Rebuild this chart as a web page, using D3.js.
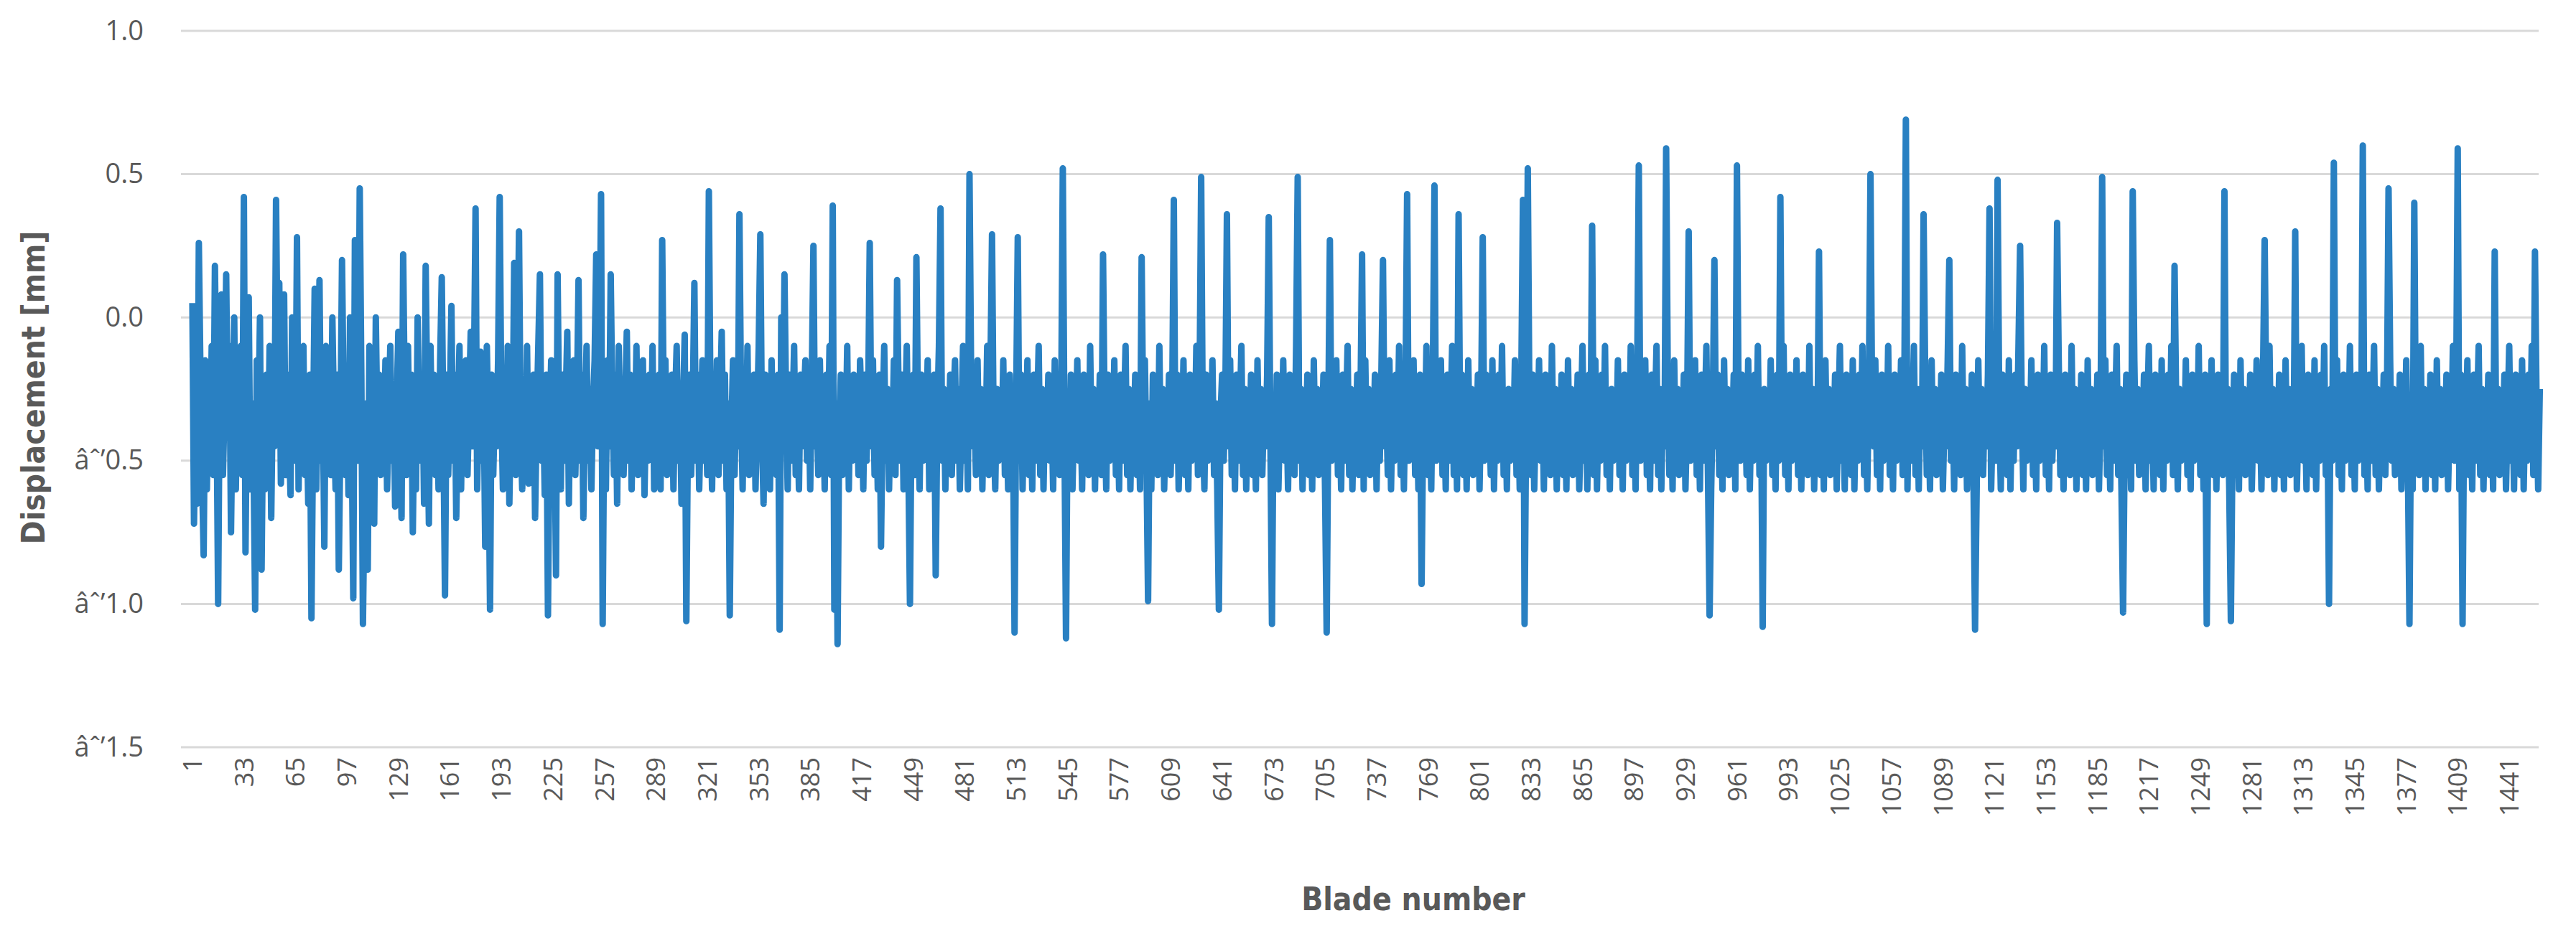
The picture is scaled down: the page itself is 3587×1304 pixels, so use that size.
<html>
<head>
<script src="https://d3js.org/d3.v7.min.js"></script>
<style>
body { margin:0; background:#fff; }
</style>
</head>
<body>
<div id="chart"></div>
<script>
// displacement per blade, one row per 32 blades
var displacement = [
0.05,-0.72,-0.3,-0.65,0.26,-0.2,-0.55,-0.83,-0.15,-0.6,-0.2,-0.5,-0.1,-0.55,0.18,-0.3,-1.0,-0.2,0.08,-0.55,-0.3,0.15,-0.4,-0.1,-0.75,-0.3,0.0,-0.6,-0.2,-0.45,-0.1,-0.55,
0.42,-0.82,-0.2,0.07,-0.6,-0.3,-0.5,-1.02,-0.15,-0.4,0.0,-0.88,-0.3,-0.6,-0.2,-0.5,-0.1,-0.7,-0.25,-0.45,0.41,-0.2,0.12,-0.58,-0.3,0.08,-0.55,-0.2,-0.4,-0.62,0.0,-0.35,
-0.5,0.28,-0.6,-0.2,-0.45,-0.1,-0.55,-0.3,-0.65,-0.2,-1.05,-0.4,0.1,-0.6,-0.3,0.13,-0.5,-0.25,-0.8,-0.1,-0.45,-0.3,-0.55,0.0,-0.35,-0.6,-0.2,-0.88,-0.4,0.2,-0.3,-0.55,
-0.2,-0.62,0.0,-0.4,-0.98,0.27,-0.3,-0.5,0.45,-0.2,-1.07,-0.6,-0.3,-0.88,-0.1,-0.5,-0.25,-0.72,0.0,-0.4,-0.2,-0.55,-0.3,-0.45,-0.15,-0.6,-0.35,-0.1,-0.5,-0.25,-0.66,-0.3,
-0.05,-0.4,-0.7,0.22,-0.3,-0.55,-0.1,-0.48,-0.2,-0.75,-0.3,-0.6,0.0,-0.35,-0.5,-0.2,-0.65,0.18,-0.3,-0.72,-0.1,-0.45,-0.2,-0.55,-0.3,-0.6,-0.15,0.14,-0.4,-0.97,-0.2,-0.55,
-0.3,0.04,-0.5,-0.2,-0.7,-0.35,-0.1,-0.6,-0.25,-0.45,-0.15,-0.55,-0.3,-0.05,-0.45,-0.2,0.38,-0.6,-0.3,-0.12,-0.5,-0.25,-0.8,-0.1,-0.4,-1.02,-0.2,-0.55,-0.3,-0.45,-0.15,0.42,
-0.3,-0.6,-0.2,-0.5,-0.1,-0.65,-0.3,-0.45,0.19,-0.55,-0.2,0.3,-0.4,-0.6,-0.25,-0.5,-0.1,-0.58,-0.3,-0.45,-0.2,-0.7,-0.35,-0.1,0.15,-0.5,-0.3,-0.62,-0.2,-1.04,-0.4,-0.15,
-0.55,-0.3,-0.9,0.15,-0.4,-0.6,-0.2,-0.5,-0.3,-0.05,-0.65,-0.2,-0.45,-0.15,-0.55,-0.3,0.13,-0.5,-0.2,-0.7,-0.35,-0.1,-0.5,-0.25,-0.6,-0.3,-0.15,0.22,-0.45,-0.2,0.43,-1.07,
-0.3,-0.6,-0.15,-0.45,0.15,-0.3,-0.55,-0.2,-0.65,-0.1,-0.4,-0.25,-0.55,-0.3,-0.05,-0.5,-0.2,-0.6,-0.3,-0.45,-0.1,-0.55,-0.25,-0.4,-0.15,-0.62,-0.3,-0.5,-0.2,-0.45,-0.1,-0.6,
-0.3,-0.5,-0.2,-0.6,0.27,-0.35,-0.15,-0.55,-0.3,-0.45,-0.2,-0.6,-0.3,-0.1,-0.5,-0.25,-0.65,-0.3,-0.06,-1.06,-0.4,-0.2,-0.55,-0.3,0.12,-0.5,-0.2,-0.6,-0.35,-0.15,-0.5,-0.3,
-0.55,0.44,-0.3,-0.6,-0.2,-0.45,-0.15,-0.55,-0.3,-0.05,-0.5,-0.2,-0.6,-0.3,-1.04,-0.4,-0.15,-0.55,-0.25,-0.45,0.36,-0.3,-0.6,-0.2,-0.5,-0.1,-0.55,-0.3,-0.45,-0.2,-0.6,-0.35,
-0.1,0.29,-0.4,-0.65,-0.2,-0.5,-0.3,-0.6,-0.15,-0.45,-0.3,-0.55,-0.2,-1.09,0.0,-0.45,0.15,-0.3,-0.6,-0.2,-0.5,-0.35,-0.1,-0.55,-0.3,-0.6,-0.2,-0.45,-0.3,-0.15,-0.5,-0.25,
-0.6,-0.2,0.25,-0.45,-0.3,-0.55,-0.15,-0.5,-0.3,-0.6,-0.2,-0.45,-0.1,-0.55,0.39,-1.02,-0.3,-1.14,-0.4,-0.2,-0.55,-0.3,-0.45,-0.1,-0.6,-0.25,-0.5,-0.2,-0.4,-0.3,-0.55,-0.15,
-0.35,-0.6,-0.2,-0.5,-0.3,0.26,-0.45,-0.15,-0.55,-0.3,-0.6,-0.2,-0.8,-0.35,-0.1,-0.5,-0.25,-0.6,-0.3,-0.45,-0.15,-0.55,0.13,-0.3,-0.5,-0.2,-0.6,-0.35,-0.1,-0.5,-1.0,-0.3,
-0.2,-0.55,0.21,-0.35,-0.6,-0.2,-0.5,-0.3,-0.45,-0.15,-0.6,-0.3,-0.5,-0.2,-0.9,-0.35,-0.1,0.38,-0.5,-0.25,-0.6,-0.3,-0.45,-0.2,-0.55,-0.3,-0.15,-0.5,-0.25,-0.6,-0.35,-0.1,
-0.5,-0.3,-0.6,0.5,-0.2,-0.45,-0.3,-0.55,-0.15,-0.5,-0.25,-0.6,-0.3,-0.45,-0.1,-0.55,-0.2,0.29,-0.4,-0.6,-0.25,-0.5,-0.3,-0.45,-0.15,-0.55,-0.3,-0.6,-0.2,-0.5,-0.35,-1.1,
-0.3,0.28,-0.5,-0.2,-0.6,-0.3,-0.45,-0.15,-0.55,-0.3,-0.6,-0.2,-0.5,-0.35,-0.1,-0.55,-0.25,-0.6,-0.3,-0.45,-0.2,-0.5,-0.3,-0.6,-0.15,-0.5,-0.25,-0.55,-0.3,0.52,-0.4,-1.12,
-0.3,-0.55,-0.2,-0.6,-0.35,-0.45,-0.15,-0.5,-0.3,-0.6,-0.2,-0.45,-0.3,-0.55,-0.1,-0.5,-0.25,-0.6,-0.3,-0.45,-0.2,-0.55,0.22,-0.35,-0.6,-0.2,-0.5,-0.3,-0.45,-0.15,-0.55,-0.3,
-0.6,-0.2,-0.5,-0.35,-0.1,-0.55,-0.25,-0.6,-0.3,-0.45,-0.2,-0.55,-0.3,-0.6,0.21,-0.4,-0.15,-0.5,-0.99,-0.3,-0.6,-0.2,-0.45,-0.3,-0.55,-0.1,-0.5,-0.25,-0.6,-0.35,-0.45,-0.2,
-0.55,-0.3,0.41,-0.5,-0.2,-0.6,-0.35,-0.45,-0.15,-0.55,-0.3,-0.6,-0.2,-0.5,-0.3,-0.45,-0.1,-0.55,-0.25,0.49,-0.4,-0.6,-0.2,-0.5,-0.3,-0.45,-0.15,-0.55,-0.3,-0.6,-1.02,-0.35,
-0.2,-0.5,-0.3,0.36,-0.45,-0.15,-0.55,-0.3,-0.6,-0.2,-0.5,-0.35,-0.1,-0.55,-0.25,-0.6,-0.3,-0.45,-0.2,-0.55,-0.3,-0.6,-0.15,-0.5,-0.25,-0.55,-0.3,-0.45,-0.2,0.35,-0.4,-1.07,
-0.3,-0.55,-0.2,-0.6,-0.35,-0.45,-0.15,-0.5,-0.3,-0.6,-0.2,-0.45,-0.3,-0.55,-0.1,0.49,-0.5,-0.25,-0.6,-0.3,-0.45,-0.2,-0.55,-0.3,-0.6,-0.15,-0.5,-0.25,-0.55,-0.3,-0.45,-0.2,
-0.6,-1.1,-0.35,0.27,-0.5,-0.3,-0.45,-0.15,-0.55,-0.3,-0.6,-0.2,-0.5,-0.35,-0.1,-0.55,-0.25,-0.6,-0.3,-0.45,-0.2,-0.55,-0.3,0.22,-0.6,-0.15,-0.5,-0.25,-0.55,-0.3,-0.45,-0.2,
-0.6,-0.3,-0.5,-0.2,0.2,-0.45,-0.3,-0.55,-0.15,-0.6,-0.3,-0.5,-0.2,-0.45,-0.1,-0.55,-0.3,-0.6,-0.25,0.43,-0.5,-0.3,-0.45,-0.15,-0.55,-0.3,-0.6,-0.2,-0.93,-0.35,-0.45,-0.1,
-0.55,-0.3,-0.6,-0.2,0.46,-0.5,-0.3,-0.45,-0.15,-0.55,-0.3,-0.6,-0.2,-0.5,-0.35,-0.1,-0.55,-0.25,-0.6,0.36,-0.45,-0.2,-0.55,-0.3,-0.6,-0.15,-0.5,-0.25,-0.55,-0.3,-0.45,-0.2,
-0.6,-0.3,0.28,-0.5,-0.2,-0.45,-0.3,-0.55,-0.15,-0.6,-0.3,-0.5,-0.2,-0.45,-0.1,-0.55,-0.3,-0.6,-0.25,-0.5,-0.3,-0.45,-0.15,-0.55,-0.3,-0.6,-0.2,0.41,-1.07,-0.35,0.52,-0.3,
-0.55,-0.2,-0.6,-0.35,-0.45,-0.15,-0.5,-0.3,-0.6,-0.2,-0.45,-0.3,-0.55,-0.1,-0.5,-0.25,-0.6,-0.3,-0.45,-0.2,-0.55,-0.3,-0.6,-0.15,-0.5,-0.25,-0.55,-0.3,-0.45,-0.2,-0.6,-0.35,
-0.1,-0.5,-0.3,-0.6,-0.2,-0.45,0.32,-0.55,-0.15,-0.6,-0.3,-0.5,-0.2,-0.45,-0.1,-0.55,-0.3,-0.6,-0.25,-0.5,-0.3,-0.45,-0.15,-0.55,-0.3,-0.6,-0.2,-0.5,-0.35,-0.45,-0.1,-0.55,
-0.3,-0.6,-0.2,0.53,-0.5,-0.3,-0.45,-0.15,-0.55,-0.3,-0.6,-0.2,-0.5,-0.35,-0.1,-0.55,-0.25,-0.6,-0.3,-0.45,0.59,-0.2,-0.55,-0.3,-0.6,-0.15,-0.5,-0.25,-0.55,-0.3,-0.45,-0.2,
-0.6,-0.35,0.3,-0.5,-0.3,-0.45,-0.15,-0.55,-0.3,-0.6,-0.2,-0.5,-0.35,-0.1,-0.55,-1.04,-0.6,-0.3,0.2,-0.45,-0.2,-0.55,-0.3,-0.6,-0.15,-0.5,-0.25,-0.55,-0.3,-0.45,-0.2,-0.6,
0.53,-0.3,-0.5,-0.2,-0.45,-0.3,-0.55,-0.15,-0.6,-0.3,-0.5,-0.2,-0.45,-0.1,-0.55,-0.3,-1.08,-0.25,-0.5,-0.3,-0.45,-0.15,-0.55,-0.3,-0.6,-0.2,-0.5,0.42,-0.45,-0.1,-0.55,-0.3,
-0.6,-0.2,-0.5,-0.35,-0.45,-0.15,-0.55,-0.3,-0.6,-0.2,-0.45,-0.3,-0.55,-0.1,-0.5,-0.25,-0.6,-0.3,-0.45,0.23,-0.55,-0.3,-0.6,-0.15,-0.5,-0.25,-0.55,-0.3,-0.45,-0.2,-0.6,-0.35,
-0.1,-0.5,-0.3,-0.6,-0.2,-0.45,-0.3,-0.55,-0.15,-0.6,-0.3,-0.5,-0.2,-0.45,-0.1,-0.55,-0.3,-0.6,-0.25,0.5,-0.3,-0.45,-0.15,-0.55,-0.3,-0.6,-0.2,-0.5,-0.35,-0.45,-0.1,-0.55,
-0.3,-0.6,-0.2,-0.5,-0.3,-0.45,-0.15,-0.55,-0.3,0.69,-0.6,-0.2,-0.5,-0.35,-0.1,-0.55,-0.25,-0.6,-0.3,-0.45,0.36,-0.2,-0.55,-0.3,-0.6,-0.15,-0.5,-0.25,-0.55,-0.3,-0.45,-0.2,
-0.6,-0.35,-0.45,-0.15,0.2,-0.5,-0.3,-0.6,-0.2,-0.45,-0.3,-0.55,-0.1,-0.5,-0.25,-0.6,-0.3,-0.45,-0.2,-0.55,-1.09,-0.6,-0.15,-0.5,-0.25,-0.55,-0.3,-0.45,-0.2,0.38,-0.6,-0.35,
-0.1,-0.5,0.48,-0.3,-0.6,-0.2,-0.45,-0.3,-0.55,-0.15,-0.6,-0.3,-0.5,-0.2,-0.45,-0.1,0.25,-0.3,-0.6,-0.25,-0.5,-0.3,-0.45,-0.15,-0.55,-0.3,-0.6,-0.2,-0.5,-0.35,-0.45,-0.1,
-0.55,-0.3,-0.6,-0.2,-0.5,-0.3,-0.45,0.33,-0.15,-0.55,-0.3,-0.6,-0.2,-0.45,-0.3,-0.55,-0.1,-0.5,-0.25,-0.6,-0.3,-0.45,-0.2,-0.55,-0.3,-0.6,-0.15,-0.5,-0.25,-0.55,-0.3,-0.45,
-0.2,-0.6,-0.35,0.49,-0.45,-0.15,-0.55,-0.3,-0.6,-0.2,-0.5,-0.35,-0.1,-0.55,-0.25,-0.6,-1.03,-0.45,-0.2,-0.55,-0.3,-0.6,0.44,-0.15,-0.5,-0.25,-0.55,-0.3,-0.45,-0.2,-0.6,-0.35,
-0.1,-0.5,-0.3,-0.6,-0.2,-0.45,-0.3,-0.55,-0.15,-0.6,-0.3,-0.5,-0.2,-0.45,-0.1,-0.55,0.18,-0.3,-0.6,-0.25,-0.5,-0.3,-0.45,-0.15,-0.55,-0.3,-0.6,-0.2,-0.5,-0.35,-0.45,-0.1,
-0.55,-0.3,-0.6,-0.2,-1.07,-0.3,-0.45,-0.15,-0.55,-0.3,-0.6,-0.2,-0.45,-0.3,-0.55,0.44,-0.5,-0.25,-0.6,-1.06,-0.45,-0.2,-0.55,-0.3,-0.6,-0.15,-0.5,-0.25,-0.55,-0.3,-0.45,-0.2,
-0.6,-0.35,-0.45,-0.15,-0.5,-0.3,-0.6,-0.2,0.27,-0.3,-0.55,-0.1,-0.5,-0.25,-0.6,-0.3,-0.45,-0.2,-0.55,-0.3,-0.6,-0.15,-0.5,-0.25,-0.55,-0.3,-0.45,0.3,-0.6,-0.35,-0.45,-0.1,
-0.5,-0.3,-0.6,-0.2,-0.45,-0.3,-0.55,-0.15,-0.6,-0.3,-0.5,-0.2,-0.45,-0.1,-0.55,-0.3,-1.0,-0.25,-0.5,0.54,-0.45,-0.15,-0.55,-0.3,-0.6,-0.2,-0.5,-0.35,-0.45,-0.1,-0.55,-0.3,
-0.6,-0.2,-0.5,-0.3,-0.45,0.6,-0.55,-0.3,-0.6,-0.2,-0.5,-0.35,-0.1,-0.55,-0.25,-0.6,-0.3,-0.45,-0.2,-0.55,-0.3,0.45,-0.15,-0.5,-0.25,-0.55,-0.3,-0.45,-0.2,-0.6,-0.35,-0.45,
-0.15,-0.5,-1.07,-0.3,-0.6,0.4,-0.45,-0.3,-0.55,-0.1,-0.5,-0.25,-0.6,-0.3,-0.45,-0.2,-0.55,-0.3,-0.6,-0.15,-0.5,-0.25,-0.55,-0.3,-0.45,-0.2,-0.6,-0.35,-0.45,-0.1,-0.5,-0.3,
0.59,-0.6,-0.2,-1.07,-0.3,-0.45,-0.15,-0.55,-0.3,-0.6,-0.2,-0.5,-0.35,-0.1,-0.55,-0.25,-0.6,-0.3,-0.45,-0.2,-0.55,-0.3,-0.6,0.23,-0.5,-0.25,-0.55,-0.3,-0.45,-0.2,-0.6,-0.35,
-0.1,-0.5,-0.3,-0.6,-0.2,-0.45,-0.3,-0.55,-0.15,-0.6,-0.3,-0.5,-0.2,-0.45,-0.1,-0.55,0.23,-0.3,-0.6,-0.25
];
var yTicks = [-1.5, -1.0, -0.5, 0.0, 0.5, 1.0];
var xTickLabels = d3.range(1, 1442, 32); // 1, 33, 65 ... 1441

var width = 3587, height = 1304;
var plotLeft = 252, plotRight = 3535, plotTop = 43, plotBottom = 1041;

var svg = d3.select("#chart").append("svg")
    .attr("width", width)
    .attr("height", height)
    .style("font-family", "'Open Sans', 'DejaVu Sans', sans-serif");

var x = d3.scaleLinear().domain([-6.1, 1459.3]).range([plotLeft, plotRight]);
var y = d3.scaleLinear().domain([-1.5, 1.0]).range([plotBottom, plotTop]);

// gridlines
svg.selectAll(".grid")
    .data(yTicks)
    .enter().append("line")
    .attr("x1", plotLeft).attr("x2", plotRight)
    .attr("y1", function(d) { return y(d); })
    .attr("y2", function(d) { return y(d); })
    .attr("stroke", "#d9d9d9")
    .attr("stroke-width", 3);

// y axis labels
var yAxis = svg.append("g")
    .attr("transform", "translate(" + (plotLeft - 52) + ",0)")
    .call(d3.axisLeft(y).tickValues(yTicks).tickFormat(d3.format(".1f")).tickSize(0).tickPadding(0));
yAxis.select(".domain").remove();
yAxis.selectAll("text")
    .attr("fill", "#595959")
    .style("font-size", "38px")
    .style("font-family", "'Open Sans', sans-serif");

// x axis labels, rotated
var xAxis = svg.append("g")
    .attr("transform", "translate(0," + (plotBottom + 14) + ")")
    .call(d3.axisBottom(x).tickValues(xTickLabels).tickFormat(d3.format("d")).tickSize(0));
xAxis.select(".domain").remove();
xAxis.selectAll("text")
    .attr("fill", "#595959")
    .style("font-size", "36px")
    .style("font-family", "'Open Sans', sans-serif")
    .attr("text-anchor", "end")
    .attr("transform", "rotate(-90)")
    .attr("x", 0)
    .attr("y", 0)
    .attr("dy", "0.35em");

// series line
var line = d3.line()
    .x(function(d, i) { return x(i + 1); })
    .y(function(d) { return y(d); });

svg.append("path")
    .datum(displacement)
    .attr("d", line)
    .attr("fill", "none")
    .attr("stroke", "#2980c2")
    .attr("stroke-width", 9)
    .attr("stroke-linejoin", "round");

// axis titles
svg.append("text")
    .attr("transform", "translate(62,540) rotate(-90)")
    .attr("text-anchor", "middle")
    .attr("fill", "#595959")
    .style("font-size", "44px")
    .style("font-weight", "bold")
    .style("font-family", "'DejaVu Sans Condensed', 'DejaVu Sans', sans-serif")
    .text("Displacement [mm]");

svg.append("text")
    .attr("x", 1968)
    .attr("y", 1268)
    .attr("text-anchor", "middle")
    .attr("fill", "#595959")
    .style("font-size", "44px")
    .style("font-weight", "bold")
    .style("font-family", "'DejaVu Sans Condensed', 'DejaVu Sans', sans-serif")
    .text("Blade number");
</script>
</body>
</html>
